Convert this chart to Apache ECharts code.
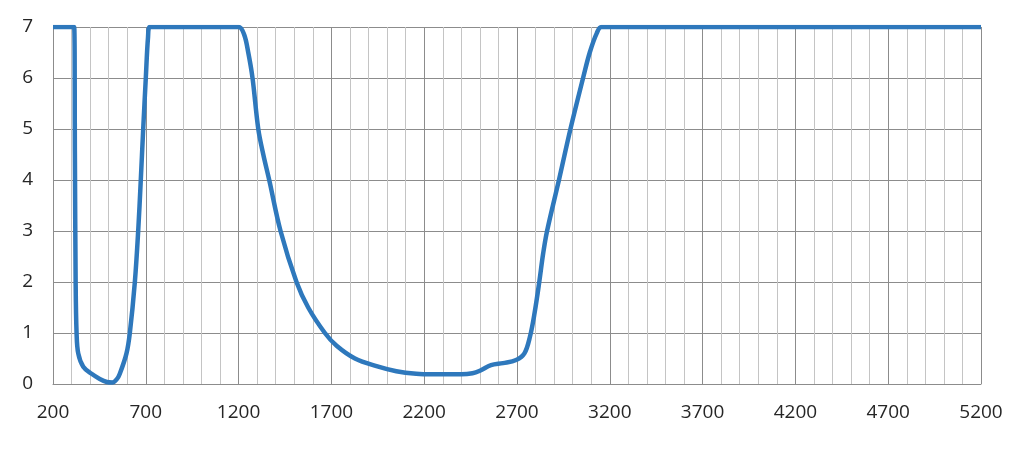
<!DOCTYPE html>
<html>
<head>
<meta charset="utf-8">
<script src="https://cdn.jsdelivr.net/npm/echarts@6/dist/echarts.min.js"></script>
<style>
html,body{margin:0;padding:0;background:#fff;}
#c{width:1024px;height:451px;}
</style>
</head>
<body>
<div id="c"></div>
<script>
// Wavelength values (x) and curve values (y)
const wavelengths = [200, 314, 318, 322, 327, 336, 363, 408, 452, 490, 520, 545, 560, 596, 614, 641, 659, 673, 686, 700, 712, 722,
  1200, 1230, 1252, 1275, 1306, 1333, 1365, 1426, 1512, 1575, 1665, 1728, 1827, 1943, 2050, 2157, 2250, 2400, 2460, 2500,
  2560, 2625, 2695, 2740, 2770, 2795, 2820, 2841, 2862, 2926, 2988, 3056, 3092, 3130, 3155, 5200];
const values = [7, 7, 4.5, 2, 1, 0.6, 0.34, 0.2, 0.1, 0.04, 0.03, 0.1, 0.2, 0.6, 1, 2, 3, 4, 5, 6, 6.8, 7,
  7, 6.85, 6.5, 6, 5, 4.5, 4, 3, 2, 1.5, 1, 0.75, 0.5, 0.35, 0.25, 0.2, 0.19, 0.19, 0.21, 0.26,
  0.37, 0.41, 0.47, 0.6, 0.93, 1.4, 2, 2.56, 3, 4, 5, 6, 6.5, 6.88, 7, 7];
const xMin = 200, xMax = 5200, xStep = 500;
const yMin = 0, yMax = 7, yStep = 1;

const seriesData = wavelengths.map((w, i) => [w, values[i]]);

const chart = echarts.init(document.getElementById('c'), null, {renderer: 'canvas'});
chart.setOption({
  animation: false,
  backgroundColor: '#ffffff',
  grid: {left: 53, right: 43, top: 27, bottom: 67, containLabel: false},
  xAxis: {
    type: 'value', min: xMin, max: xMax, interval: xStep,
    axisLine: {show: true, lineStyle: {color: '#8c8c8c', width: 1}},
    axisTick: {show: false},
    axisLabel: {color: '#262626', fontSize: 19, fontFamily: 'Open Sans', margin: 19,
      formatter: v => String(v)},
    splitLine: {show: true, lineStyle: {color: '#8c8c8c', width: 1}},
    minorTick: {show: false, splitNumber: 5},
    minorSplitLine: {show: true, lineStyle: {color: '#c4c4c4', width: 1}}
  },
  yAxis: {
    type: 'value', min: yMin, max: yMax, interval: yStep,
    axisLine: {show: false},
    axisTick: {show: false},
    axisLabel: {color: '#262626', fontSize: 19, fontFamily: 'Open Sans', margin: 20},
    splitLine: {show: true, lineStyle: {color: '#8c8c8c', width: 1}}
  },
  series: [{
    type: 'line',
    data: seriesData,
    showSymbol: false,
    smooth: 0.35,
    clip: true,
    lineStyle: {color: '#2e78bc', width: 4.5}
  }]
});
</script>
</body>
</html>
